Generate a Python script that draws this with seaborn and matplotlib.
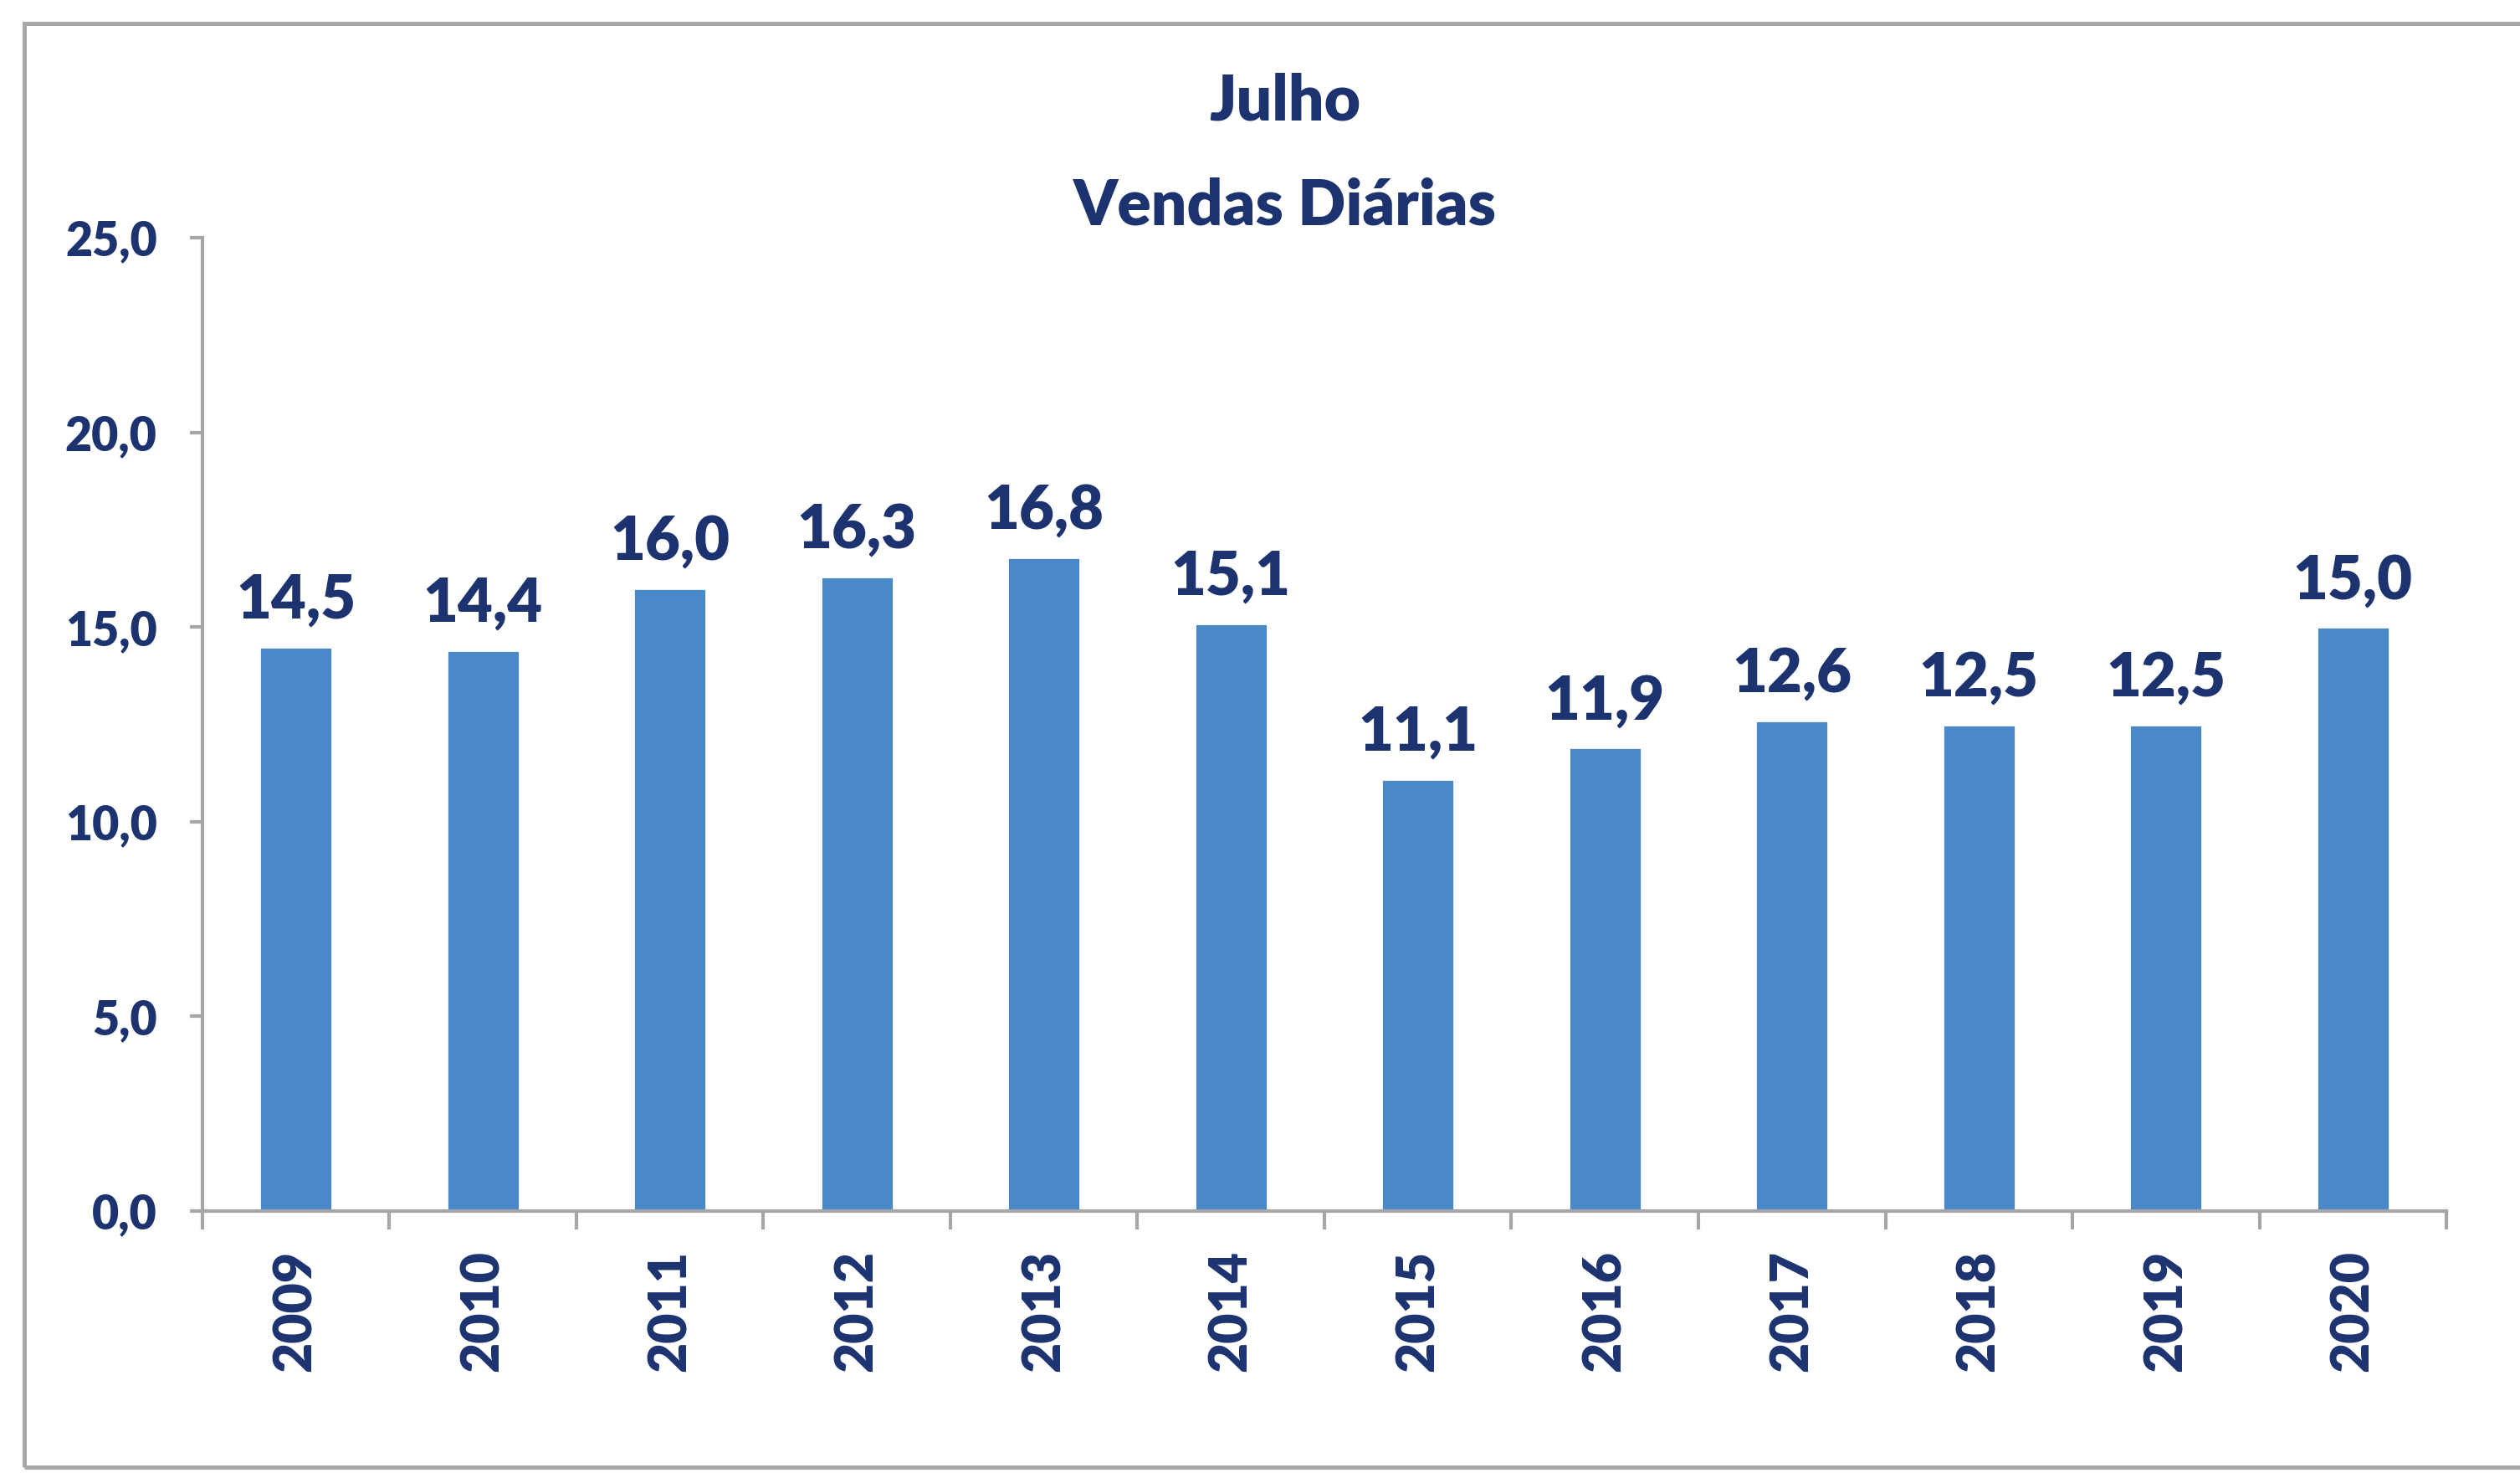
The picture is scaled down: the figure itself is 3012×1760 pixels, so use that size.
import numpy as np
import pandas as pd
import matplotlib.pyplot as plt
import matplotlib.patches as patches
from matplotlib.ticker import FuncFormatter, FixedLocator
import seaborn as sns

years = ["2009", "2010", "2011", "2012", "2013", "2014",
         "2015", "2016", "2017", "2018", "2019", "2020"]
vendas = [14.5, 14.4, 16.0, 16.3, 16.8, 15.1, 11.1, 11.9, 12.6, 12.5, 12.5, 15.0]
y_ticks = [0, 5, 10, 15, 20, 25]

navy = "#1C3370"
bar_color = "#4A89C8"
axis_gray = "#A6A6A6"
wt = "heavy"

sns.set_style("white")
plt.rcParams["font.family"] = ["Lato", "DejaVu Sans"]
plt.rcParams["font.weight"] = wt

df = pd.DataFrame({"ano": years, "vendas": vendas})

fig = plt.figure(figsize=(15.06, 8.8), dpi=200)
ax = fig.add_axes([0.0803, 0.1778, 0.8905, 0.6608])

sns.barplot(data=df, x="ano", y="vendas", color=bar_color, width=0.39,
            saturation=1, ax=ax)

ax.set_xlim(-0.5, len(years) - 0.5)
ax.set_ylim(0, 25)
ax.yaxis.set_major_locator(FixedLocator(y_ticks))
ax.yaxis.set_major_formatter(FuncFormatter(lambda v, p: f"{v:.1f}".replace(".", ",")))

for s in ["top", "right"]:
    ax.spines[s].set_visible(False)
for s in ["left", "bottom"]:
    ax.spines[s].set_color(axis_gray)
    ax.spines[s].set_linewidth(1.5)

ax.tick_params(axis="y", length=5.5, width=1.5, color=axis_gray, labelsize=20,
               labelcolor=navy, pad=14, left=True)
ax.tick_params(axis="x", which="major", length=0, labelsize=22.5,
               labelcolor=navy, pad=17, labelrotation=90)
ax.set_xticks(np.arange(-0.5, len(years), 1.0), minor=True)
ax.tick_params(axis="x", which="minor", length=8, width=1.5, color=axis_gray,
               bottom=True)
for lab in ax.get_xticklabels() + ax.get_yticklabels():
    lab.set_fontweight(wt)
ax.set_xlabel("")
ax.set_ylabel("")

labels = [f"{v:.1f}".replace(".", ",") for v in vendas]
ax.bar_label(ax.containers[0], labels=labels, padding=8, fontsize=26,
             color=navy, fontweight=wt)

fig.text(0.510, 0.931, "Julho", ha="center", va="center", fontsize=27,
         color=navy, fontweight=wt)
fig.text(0.510, 0.860, "Vendas Diárias", ha="center", va="center", fontsize=27,
         color=navy, fontweight=wt)

# outer chart frame
fig.patches.append(patches.Rectangle((0.0096, 0.004), 1.2, 0.98,
                                     transform=fig.transFigure, fill=False,
                                     edgecolor="#A8A8A8", linewidth=1.8))

fig.savefig("out.png", dpi=200, facecolor="white")
